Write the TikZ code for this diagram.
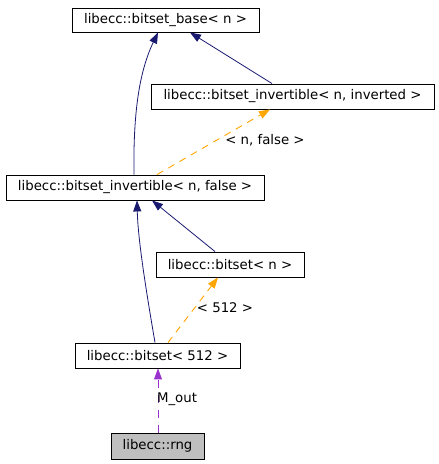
\documentclass[tikz,border=0pt]{standalone}
\usepackage{fontspec}
\setmainfont{DejaVu Sans}
\usetikzlibrary{arrows.meta}
\definecolor{navyc}{RGB}{25,25,112}
\definecolor{orangec}{RGB}{255,165,0}
\definecolor{purplec}{RGB}{154,50,205}
\definecolor{grayc}{RGB}{191,191,191}
\tikzset{
  cls/.style={draw=black, line width=0.9bp, inner sep=0pt, minimum height=25bp, font=\fontsize{13.3bp}{16bp}\selectfont},
  lbl/.style={inner sep=0pt, font=\fontsize{13.3bp}{16bp}\selectfont},
  inh/.style={navyc, line width=0.8bp, -{Triangle[length=11bp,width=8bp]}},
  tmpl/.style={orangec, line width=0.9bp, dash pattern=on 7bp off 6bp, -{Triangle[length=11bp,width=8bp]}},
  use/.style={purplec, line width=1bp, dash pattern=on 8bp off 7bp, -{Triangle[length=11bp,width=8bp]}},
}
\begin{document}
\begin{tikzpicture}[x=1bp,y=-1bp]
\useasboundingbox (0,0) rectangle (439,464);
\node[cls, minimum width=187bp, minimum height=24bp] (base) at (165.5,20) {libecc::bitset\_base< n >};
\node[cls, minimum width=283bp] (inv) at (292.5,96.5) {libecc::bitset\_invertible< n, inverted >};
\node[cls, minimum width=258bp] (fal) at (135,187.5) {libecc::bitset\_invertible< n, false >};
\node[cls, minimum width=148bp] (bsn) at (230,264.5) {libecc::bitset< n >};
\node[cls, minimum width=165bp] (b512) at (157.5,355.5) {libecc::bitset< 512 >};
\node[cls, fill=grayc, minimum width=93bp, minimum height=26bp] (rng) at (157.5,446) {libecc::rng};

\draw[inh] ([xshift=-1bp]fal.north) .. controls (133,110) and (140,70) .. ([xshift=-7.5bp]base.south);
\draw[inh] ([xshift=-20.5bp]inv.north) -- ([xshift=24.5bp]base.south);
\draw[tmpl] ([xshift=22bp]fal.north) -- ([xshift=-22.5bp]inv.south);
\draw[inh] ([xshift=-15bp]bsn.north) -- ([xshift=17bp]fal.south);
\draw[inh] ([xshift=-2.5bp]b512.north) .. controls (146,290) and (138,240) .. ([xshift=2bp]fal.south);
\draw[tmpl] ([xshift=10.5bp]b512.north) -- ([xshift=-12bp]bsn.south);
\draw[use] ([xshift=0.5bp]rng.north) -- ([xshift=0.5bp]b512.south);

\node[lbl] (l1) at (265,140) {< n, false >};
\node[lbl] (l2) at (225,308) {< 512 >};
\node[lbl] (l3) at (177,399) {M\_out};
\end{tikzpicture}
\end{document}
